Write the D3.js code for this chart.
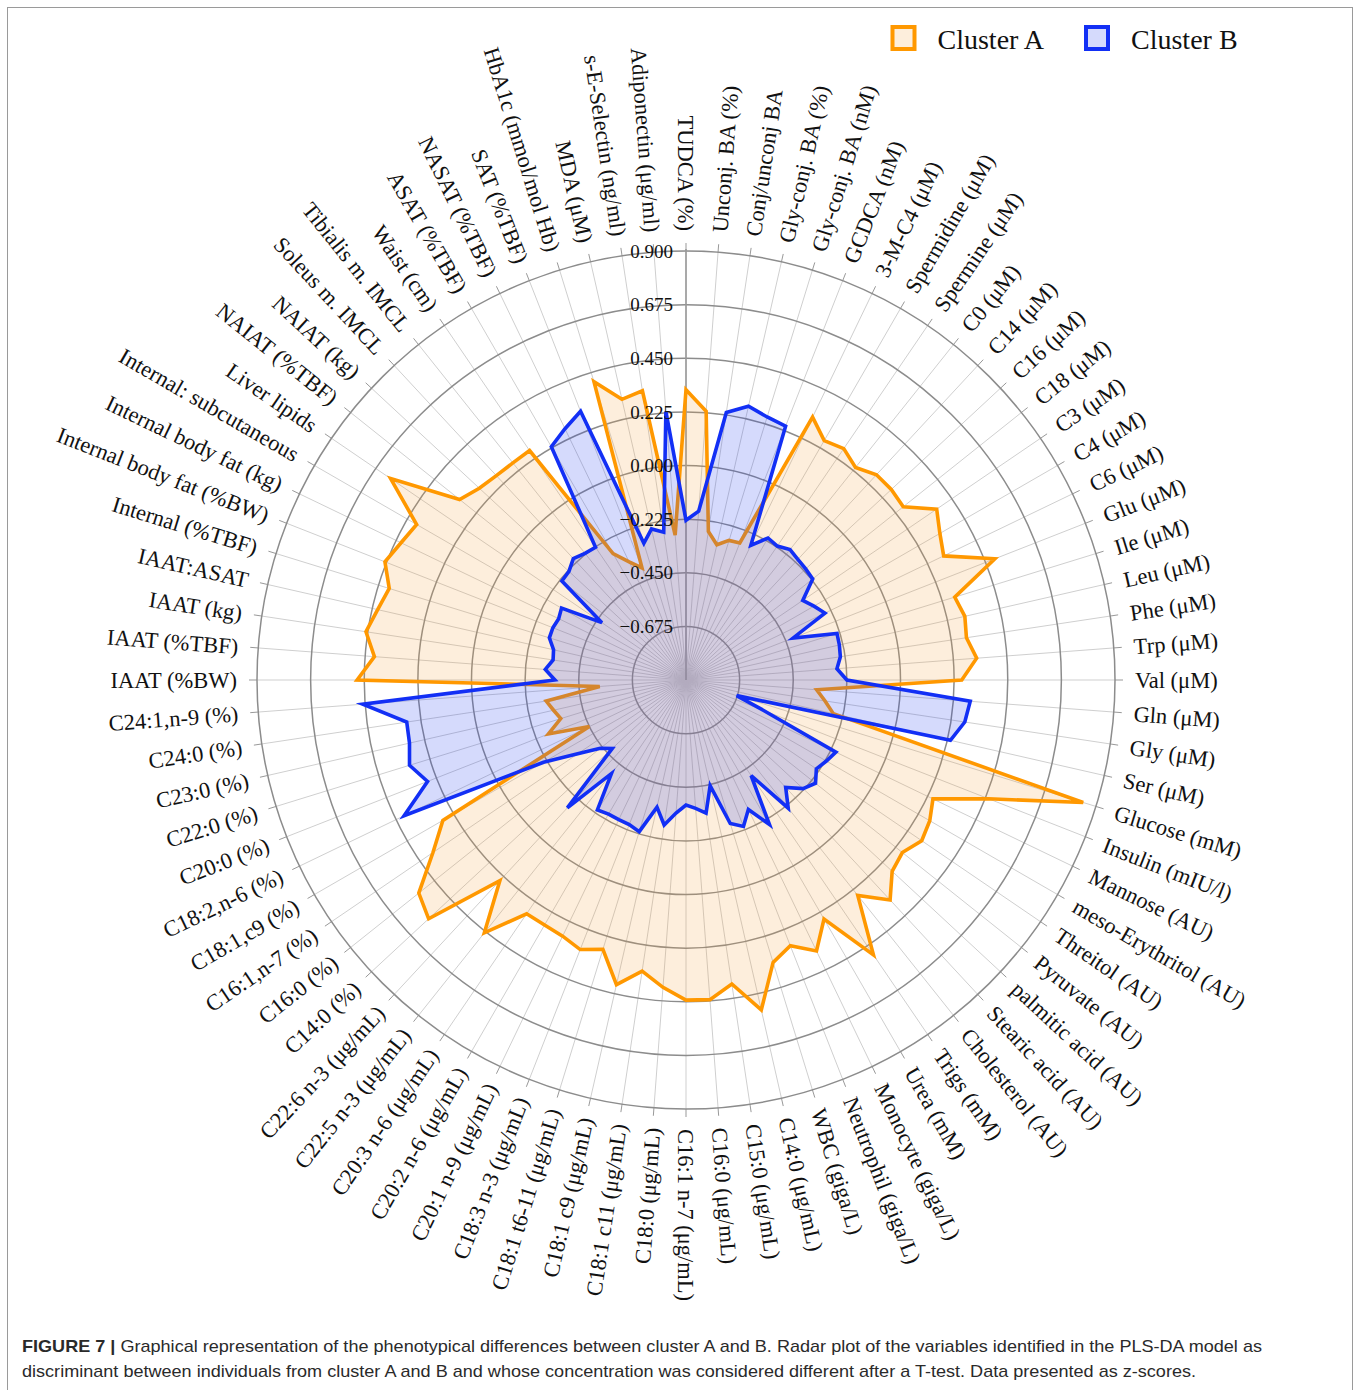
<!DOCTYPE html>
<html>
<head>
<meta charset="utf-8">
<script src="https://cdn.jsdelivr.net/npm/d3@7"></script>
<style>
  body { margin: 0; background: #fff; }
  svg text { font-family: "Liberation Serif", "Times New Roman", serif; fill: #111; }
  svg text.caption { font-family: "Liberation Sans", Arial, Helvetica, sans-serif; fill: #2a2a2a; }
</style>
</head>
<body>
<svg id="chart" width="1360" height="1390"></svg>
<script>
// variables, clockwise from the top
var labels = [
  "TUDCA (%)", "Unconj. BA (%)", "Conj/unconj BA", "Gly-conj. BA (%)", "Gly-conj. BA (nM)",
  "GCDCA (nM)", "3-M-C4 (μM)", "Spermidine (μM)", "Spermine (μM)", "C0 (μM)",
  "C14 (μM)", "C16 (μM)", "C18 (μM)", "C3 (μM)", "C4 (μM)", "C6 (μM)", "Glu (μM)",
  "Ile (μM)", "Leu (μM)", "Phe (μM)", "Trp (μM)", "Val (μM)", "Gln (μM)", "Gly (μM)",
  "Ser (μM)", "Glucose (mM)", "Insulin (mIU/l)", "Mannose (AU)", "meso-Erythritol (AU)",
  "Threitol (AU)", "Pyruvate (AU)", "palmitic acid (AU)", "Stearic acid (AU)",
  "Cholesterol (AU)", "Trigs (mM)", "Urea (mM)", "Monocyte (giga/L)", "Neutrophil (giga/L)",
  "WBC (giga/L)", "C14:0 (μg/mL)", "C15:0 (μg/mL)", "C16:0 (μg/mL)", "C16:1 n-7 (μg/mL)",
  "C18:0 (μg/mL)", "C18:1 c11 (μg/mL)", "C18:1 c9 (μg/mL)", "C18:1 t6-11 (μg/mL)",
  "C18:3 n-3 (μg/mL)", "C20:1 n-9 (μg/mL)", "C20:2 n-6 (μg/mL)", "C20:3 n-6 (μg/mL)",
  "C22:5 n-3 (μg/mL)", "C22:6 n-3 (μg/mL)", "C14:0 (%)", "C16:0 (%)", "C16:1,n-7 (%)",
  "C18:1,c9 (%)", "C18:2,n-6 (%)", "C20:0 (%)", "C22:0 (%)", "C23:0 (%)", "C24:0 (%)",
  "C24:1,n-9 (%)", "IAAT (%BW)", "IAAT (%TBF)", "IAAT (kg)", "IAAT:ASAT", "Internal (%TBF)",
  "Internal body fat (%BW)", "Internal body fat (kg)", "Internal: subcutaneous", "Liver lipids",
  "NAIAT (%TBF)", "NAIAT (kg)", "Soleus m. IMCL", "Tibialis m. IMCL", "Waist (cm)",
  "ASAT (%TBF)", "NASAT (%TBF)", "SAT (%TBF)", "HbA1c (mmol/mol Hb)", "MDA (μM)",
  "s-E-Selectin (ng/ml)", "Adiponectin (μg/ml)"
];

// z-scores
var clusterA = [
  0.318, 0.231, -0.27, -0.318, -0.287, -0.282, 0.324, 0.26, 0.275, 0.241,
  0.275, 0.275, 0.266, 0.373, 0.33, 0.30, 0.492, 0.28, 0.30, 0.29,
  0.323, 0.257, -0.35, -0.31, -0.266, 0.844, 0.464, 0.25, 0.281, 0.297,
  0.261, 0.28, 0.359, 0.256, 0.496, 0.258, 0.362, 0.298, 0.34, 0.52,
  0.39, 0.445, 0.443, 0.393, 0.335, 0.411, 0.283, 0.315, 0.293, 0.287,
  0.287, 0.457, 0.248, 0.573, 0.534, 0.385, 0.278, -0.45, -0.28, -0.35,
  -0.33, -0.307, -0.537, 0.48, 0.411, 0.458, 0.427, 0.403, 0.457, 0.427,
  0.405, 0.60, 0.315, 0.283, 0.27, 0.265, 0.265, -0.288, -0.35, -0.395,
  0.41, 0.308, 0.327, -0.29
];
var clusterB = [
  -0.23, -0.19, 0.235, 0.278, 0.255, 0.244, -0.273, -0.212, -0.22, -0.20,
  -0.21, -0.215, -0.22, -0.307, -0.28, -0.253, -0.417, -0.237, -0.24, -0.245,
  -0.265, -0.225, 0.296, 0.283, 0.238, -0.678, -0.55, -0.202, -0.22, -0.238,
  -0.205, -0.23, -0.285, -0.212, -0.415, -0.20, -0.297, -0.24, -0.27, -0.445,
  -0.335, -0.36, -0.375, -0.34, -0.285, -0.353, -0.234, -0.248, -0.25, -0.25,
  -0.24, -0.398, -0.168, -0.478, -0.44, -0.35, -0.21, 0.413, 0.265, 0.314,
  0.29, 0.285, 0.46, -0.35, -0.308, -0.336, -0.33, -0.30, -0.30, -0.307,
  -0.297, -0.473, -0.234, -0.23, -0.205, -0.22, -0.226, 0.23, 0.27, 0.311,
  -0.30, -0.25, -0.273, 0.23
];

var tickValues = [-0.675, -0.45, -0.225, 0, 0.225, 0.45, 0.675, 0.9];
var seriesNames = ["Cluster A", "Cluster B"];

var captionLines = [
  ["FIGURE 7 |", " Graphical representation of the phenotypical differences between cluster A and B. Radar plot of the variables identified in the PLS-DA model as"],
  ["", "discriminant between individuals from cluster A and B and whose concentration was considered different after a T-test. Data presented as z-scores."]
];

var cx = 686, cy = 680, outerR = 429;
var n = labels.length;
var format = d3.format(".3f");

var r = d3.scaleLinear().domain([-0.9, 0.9]).range([0, outerR]);
var angle = d3.scaleLinear().domain([0, n]).range([0, 2 * Math.PI]);

var series = [
  { name: seriesNames[0], values: clusterA, stroke: "#ff9800", fill: "rgb(244,160,60)", opacity: 0.18 },
  { name: seriesNames[1], values: clusterB, stroke: "#122ff5", fill: "rgb(30,60,240)", opacity: 0.19 }
];

var svg = d3.select("#chart");

// figure frame
svg.append("rect")
  .attr("x", 7.5).attr("y", 7.5)
  .attr("width", 1345).attr("height", 1400)
  .style("fill", "none").style("stroke", "#9a9a9a").style("stroke-width", 1);

var g = svg.append("g").attr("transform", "translate(" + cx + "," + cy + ")");

// spokes
var spokes = g.append("g").attr("class", "spokes");
d3.range(n).forEach(function(i) {
  var a = angle(i);
  var s = Math.sin(a), c = -Math.cos(a);
  spokes.append("line")
    .attr("x1", 0).attr("y1", 0)
    .attr("x2", s * outerR).attr("y2", c * outerR)
    .style("stroke", "#cfcfcf").style("stroke-width", 1);
  spokes.append("line")
    .attr("x1", s * outerR).attr("y1", c * outerR)
    .attr("x2", s * (outerR + 8)).attr("y2", c * (outerR + 8))
    .style("stroke", "#999").style("stroke-width", 1);
});

// rings
g.append("g").attr("class", "rings")
  .selectAll("circle")
  .data(tickValues)
  .enter().append("circle")
    .attr("r", function(d) { return r(d); })
    .style("fill", "none")
    .style("stroke", "#8c8c8c")
    .style("stroke-width", 1.5);

// radial axis line
g.append("line")
  .attr("x1", 0).attr("y1", 0)
  .attr("x2", 0).attr("y2", -outerR - 2)
  .style("stroke", "#9a9a9a").style("stroke-width", 1.6);

// the two clusters
var radar = d3.lineRadial()
  .angle(function(d, i) { return angle(i); })
  .radius(function(d) { return r(d); })
  .curve(d3.curveLinearClosed);

g.append("g").attr("class", "series")
  .selectAll("path")
  .data(series)
  .enter().append("path")
    .attr("d", function(d) { return radar(d.values); })
    .style("fill", function(d) { return d.fill; })
    .style("fill-opacity", function(d) { return d.opacity; })
    .style("stroke", function(d) { return d.stroke; })
    .style("stroke-width", 3.6)
    .style("stroke-linejoin", "miter");

// tick labels along the radial axis
g.append("g").attr("class", "ticks")
  .selectAll("text")
  .data(tickValues)
  .enter().append("text")
    .attr("x", -13)
    .attr("y", function(d) { return -r(d); })
    .attr("dy", "0.35em")
    .style("text-anchor", "end")
    .style("font-size", "19px")
    .text(function(d) { return format(d); });

// variable labels, rotated along the spokes
var labelR = 449;
g.append("g").attr("class", "labels")
  .selectAll("text")
  .data(labels)
  .enter().append("text")
    .attr("transform", function(d, i) {
      var deg = i * 360 / n;
      var a = angle(i);
      var x = Math.sin(a) * labelR, y = -Math.cos(a) * labelR;
      var rot = (deg > 0 && deg <= 180) ? deg - 90 : deg + 90;
      return "translate(" + x + "," + y + ") rotate(" + rot + ")";
    })
    .attr("dy", "0.35em")
    .style("text-anchor", function(d, i) {
      var deg = i * 360 / n;
      return (deg > 0 && deg <= 180) ? "start" : "end";
    })
    .style("font-size", "22.5px")
    .text(function(d) { return d; });

// legend
var legend = svg.append("g").attr("class", "legend");
var legendX = [892.5, 1086];
series.forEach(function(s, k) {
  legend.append("rect")
    .attr("x", legendX[k]).attr("y", 27)
    .attr("width", 22).attr("height", 22)
    .style("fill", s.fill).style("fill-opacity", s.opacity)
    .style("stroke", s.stroke).style("stroke-width", 4);
  legend.append("text")
    .attr("x", legendX[k] + 45).attr("y", 49)
    .style("font-size", "28px")
    .text(s.name);
});

// caption
var capLengths = [1240, 1174];
captionLines.forEach(function(line, k) {
  var t = svg.append("text")
    .attr("class", "caption")
    .attr("x", 22).attr("y", 1352 + k * 25)
    .attr("textLength", capLengths[k])
    .attr("lengthAdjust", "spacingAndGlyphs")
    .style("font-size", "17px");
  if (line[0]) {
    t.append("tspan").style("font-weight", "bold").text(line[0]);
  }
  t.append("tspan").text(line[1]);
});
</script>
</body>
</html>
